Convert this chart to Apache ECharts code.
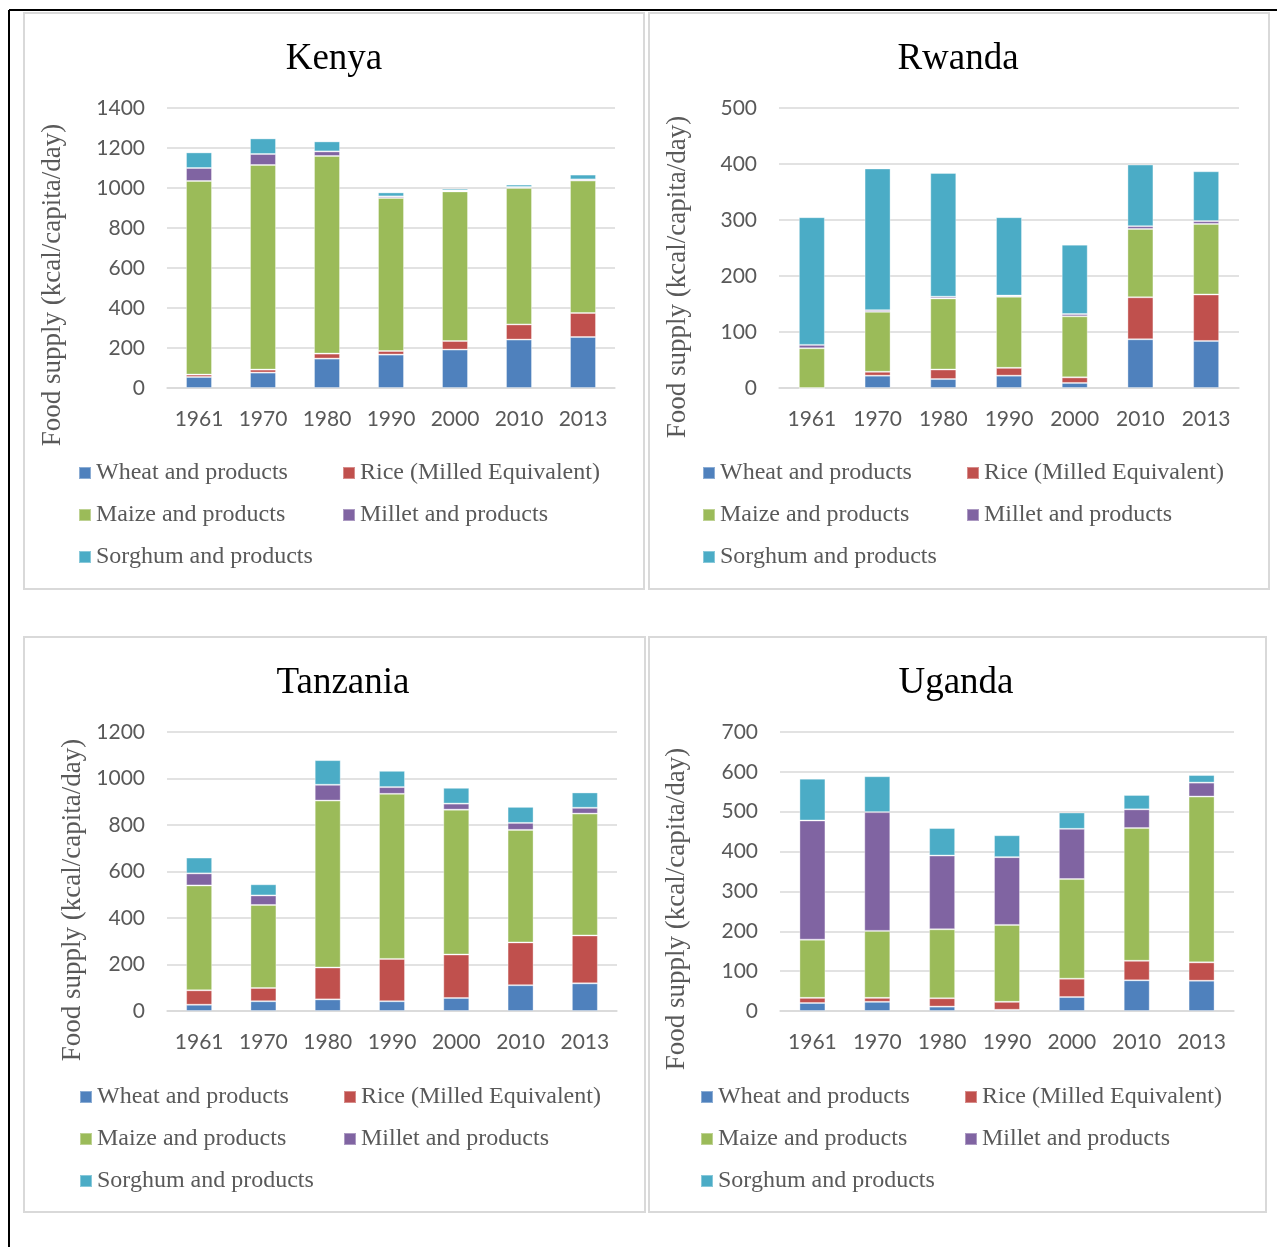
<!DOCTYPE html>
<html>
<head>
<meta charset="utf-8">
<script src="https://cdn.jsdelivr.net/npm/echarts@6/dist/echarts.min.js"></script>
<style>
html,body{margin:0;padding:0;background:#fff;}
#c{width:1277px;height:1247px;}
</style>
</head>
<body>
<div id="c"></div>
<script>
var years = ['1961','1970','1980','1990','2000','2010','2013'];
var seriesNames = ['Wheat and products','Rice (Milled Equivalent)','Maize and products','Millet and products','Sorghum and products'];
var colors = ['#4F81BD','#C0504D','#9BBB59','#8064A2','#4BACC6'];
var yAxisTitle = 'Food supply (kcal/capita/day)';

var kenyaWheat   = [55, 77, 147, 167, 192, 242, 255];
var kenyaRice    = [12, 15, 25, 18, 43, 76, 120];
var kenyaMaize   = [968, 1023, 988, 765, 748, 682, 662];
var kenyaMillet  = [65, 55, 23, 8, 5, 5, 6];
var kenyaSorghum = [78, 78, 50, 20, 9, 12, 24];

var rwandaWheat   = [0, 22, 16, 22, 9, 87, 84];
var rwandaRice    = [0, 7, 17, 14, 10, 75, 83];
var rwandaMaize   = [71, 107, 127, 127, 109, 122, 126];
var rwandaMillet  = [6, 3, 3, 2, 4, 5, 5];
var rwandaSorghum = [228, 253, 221, 140, 124, 110, 89];

var tanzaniaWheat   = [27, 42, 50, 42, 56, 111, 119];
var tanzaniaRice    = [62, 57, 137, 182, 187, 184, 206];
var tanzaniaMaize   = [451, 357, 718, 710, 623, 484, 524];
var tanzaniaMillet  = [52, 41, 68, 29, 26, 30, 25];
var tanzaniaSorghum = [68, 48, 106, 70, 68, 69, 66];

var ugandaWheat   = [20, 23, 11, 3, 35, 77, 76];
var ugandaRice    = [13, 10, 21, 20, 46, 49, 46];
var ugandaMaize   = [146, 168, 173, 193, 250, 333, 416];
var ugandaMillet  = [299, 298, 185, 170, 126, 47, 35];
var ugandaSorghum = [105, 90, 69, 55, 41, 36, 19];

var panels = [
  {title:'Kenya', data:[kenyaWheat,kenyaRice,kenyaMaize,kenyaMillet,kenyaSorghum], max:1400, interval:200,
   box:[24,13,620,576], grid:{left:167,width:448,top:108,height:280}, titleX:334, titleY:59, axTitle:[53,285],
   leg1:[78,461], leg2:[342,461]},
  {title:'Rwanda', data:[rwandaWheat,rwandaRice,rwandaMaize,rwandaMillet,rwandaSorghum], max:500, interval:100,
   box:[649,13,620,576], grid:{left:779,width:460,top:108,height:280}, titleX:958, titleY:59, axTitle:[678,277],
   leg1:[702,461], leg2:[966,461]},
  {title:'Tanzania', data:[tanzaniaWheat,tanzaniaRice,tanzaniaMaize,tanzaniaMillet,tanzaniaSorghum], max:1200, interval:200,
   box:[24,637,621,575], grid:{left:167,width:450,top:732,height:279}, titleX:343, titleY:683, axTitle:[73,900],
   leg1:[79,1085], leg2:[343,1085]},
  {title:'Uganda', data:[ugandaWheat,ugandaRice,ugandaMaize,ugandaMillet,ugandaSorghum], max:700, interval:100,
   box:[649,637,617,575], grid:{left:780,width:454,top:732,height:279}, titleX:956, titleY:683, axTitle:[677,909],
   leg1:[700,1085], leg2:[964,1085]}
];

var option = {
  backgroundColor:'#fff',
  animation:false,
  color: colors,
  grid:[], xAxis:[], yAxis:[], legend:[], series:[],
  graphic:[]
};

var tickFont = 'Lato, "Open Sans", sans-serif';
var serif = '"Liberation Serif", "DejaVu Serif", serif';

// outer black frame
option.graphic.push({type:'line', shape:{x1:9,y1:10,x2:1277,y2:10}, style:{stroke:'#000',lineWidth:2}, z:10});
option.graphic.push({type:'line', shape:{x1:9,y1:10,x2:9,y2:1247}, style:{stroke:'#000',lineWidth:2}, z:10});

panels.forEach(function(p, i){
  option.graphic.push({type:'rect', shape:{x:p.box[0],y:p.box[1],width:p.box[2],height:p.box[3]},
    style:{fill:'none', stroke:'#d9d9d9', lineWidth:2}, z:0});
  option.graphic.push({type:'text', x:p.axTitle[0], y:p.axTitle[1], rotation:Math.PI/2,
    style:{text:yAxisTitle, fill:'#595959', font:'27px ' + serif, textAlign:'center', textVerticalAlign:'middle'}, z:5});
  option.graphic.push({type:'text', x:p.titleX, y:p.titleY,
    style:{text:p.title, fill:'#000', font:'37px ' + serif, textAlign:'center', textVerticalAlign:'middle'}, z:5});
  option.grid.push({left:p.grid.left, width:p.grid.width, top:p.grid.top, height:p.grid.height, containLabel:false});
  option.xAxis.push({type:'category', gridIndex:i, data:years,
    axisLine:{lineStyle:{color:'#d9d9d9', width:1.5}}, axisTick:{show:false},
    axisLabel:{color:'#595959', fontFamily:tickFont, fontSize:21, margin:21}});
  option.yAxis.push({type:'value', gridIndex:i, min:0, max:p.max, interval:p.interval,
    axisLine:{show:false}, axisTick:{show:false},
    splitLine:{lineStyle:{color:'#d9d9d9', width:1.5}},
    axisLabel:{color:'#595959', fontFamily:tickFont, fontSize:21, margin:22,
      formatter:function(v){ return String(v); }}});
  var legBase = {orient:'vertical', icon:'rect', itemWidth:12, itemHeight:12, itemGap:18, padding:0,
    textStyle:{fontFamily:serif, fontSize:24, color:'#595959', lineHeight:24},
    selectedMode:false};
  option.legend.push(Object.assign({}, legBase, {left:p.leg1[0], top:p.leg1[1],
    data:[seriesNames[0], seriesNames[2], seriesNames[4]]}));
  option.legend.push(Object.assign({}, legBase, {left:p.leg2[0], top:p.leg2[1],
    data:[seriesNames[1], seriesNames[3]]}));
  seriesNames.forEach(function(name, k){
    option.series.push({type:'bar', name:name, stack:'s'+i, xAxisIndex:i, yAxisIndex:i,
      data:p.data[k], barWidth:26, itemStyle:{color:colors[k], borderColor:'rgba(255,255,255,0.35)', borderWidth:1}});
  });
});

var chart = echarts.init(document.getElementById('c'), null, {renderer:'canvas'});
chart.setOption(option);
</script>
</body>
</html>
